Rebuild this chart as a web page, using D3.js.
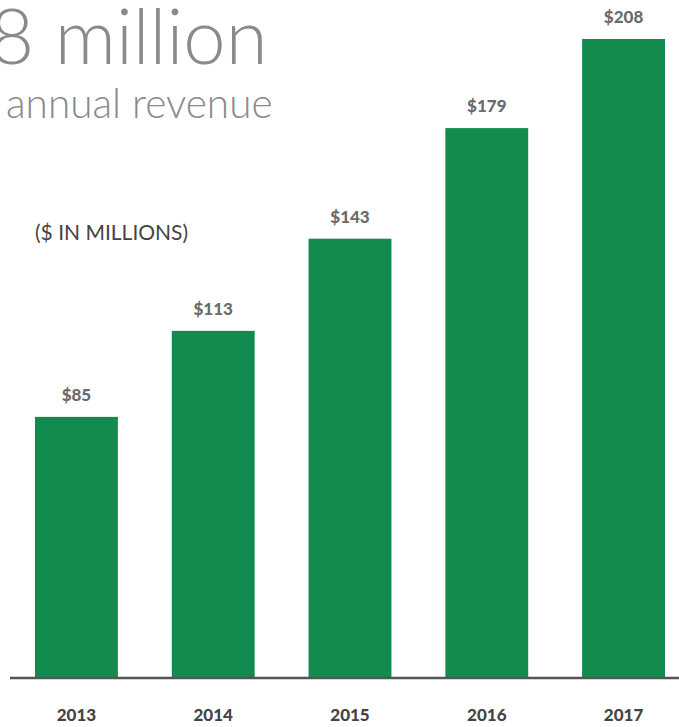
<!DOCTYPE html>
<html lang="en">
<head>
    <meta charset="UTF-8" />
    <title>Annual revenue</title>
    <script src="https://d3js.org/d3.v7.min.js"></script>
    <style>
        body { margin: 0; background: #fff; }
        svg { display: block; font-family: Lato, sans-serif; }
    </style>
</head>
<body>
    <div id="chart"></div>
    <script>
        var w = 679;
        var h = 727;
        var baseline = 678;

        var years = ["2013", "2014", "2015", "2016", "2017"];
        var revenue = [85, 113, 143, 179, 208];
        var valueLabels = ["$85", "$113", "$143", "$179", "$208"];

        var svg = d3.select("#chart")
            .append("svg")
            .attr("width", w)
            .attr("height", h);

        var xScale = d3.scaleBand()
            .domain(years)
            .range([35, 665])
            .paddingInner(0.394)
            .paddingOuter(0);

        // about 3.07 px per million
        var yScale = d3.scaleLinear()
            .domain([0, 208])
            .range([baseline, 39]);

        // headline (the leading digits run off the left edge, as in the original)
        svg.append("text")
            .attr("x", -10)
            .attr("y", 64)
            .style("font-size", "76px")
            .style("font-weight", 300)
            .style("fill", "#8a8a8a")
            .text("8 million");

        svg.append("text")
            .attr("x", 6)
            .attr("y", 118)
            .style("font-size", "40.5px")
            .style("font-weight", 300)
            .style("fill", "#8a8a8a")
            .text("annual revenue");

        svg.append("text")
            .attr("x", 35)
            .attr("y", 240)
            .style("font-size", "21px")
            .style("fill", "#444")
            .text("($ IN MILLIONS)");

        svg.selectAll("rect.bar")
            .data(revenue)
            .enter()
            .append("rect")
            .attr("class", "bar")
            .attr("x", function (d, i) { return xScale(years[i]); })
            .attr("y", function (d) { return yScale(d); })
            .attr("width", xScale.bandwidth())
            .attr("height", function (d) { return baseline - yScale(d); })
            .style("fill", "#138a4e");

        svg.selectAll("text.value")
            .data(revenue)
            .enter()
            .append("text")
            .attr("class", "value")
            .attr("x", function (d, i) { return xScale(years[i]) + xScale.bandwidth() / 2; })
            .attr("y", function (d) { return yScale(d) - 16; })
            .attr("text-anchor", "middle")
            .style("font-size", "17px")
            .style("font-weight", 900)
            .style("fill", "#6b6b6b")
            .text(function (d, i) { return valueLabels[i]; });

        // x axis: a plain line plus the year labels
        var xAxis = d3.axisBottom(xScale)
            .tickSize(0)
            .tickPadding(31);

        var axisG = svg.append("g")
            .attr("transform", "translate(0," + baseline + ")")
            .call(xAxis);

        axisG.select(".domain").remove();
        axisG.append("line")
            .attr("x1", 10)
            .attr("x2", w)
            .attr("stroke", "#555")
            .attr("stroke-width", 2.5);

        axisG.selectAll(".tick text")
            .style("font-family", "Lato, sans-serif")
            .style("font-size", "17px")
            .style("font-weight", 900)
            .style("fill", "#444");
    </script>
</body>
</html>
